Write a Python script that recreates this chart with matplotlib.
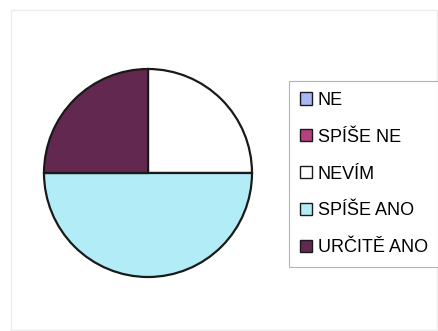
import matplotlib
matplotlib.use("Agg")
import matplotlib.pyplot as plt
from matplotlib.patches import Patch, Rectangle

plt.rcParams['font.family'] = ['Liberation Sans', 'DejaVu Sans']

categories = ["NE", "SPÍŠE NE", "NEVÍM", "SPÍŠE ANO", "URČITĚ ANO"]
values = [0, 0, 1, 2, 1]
colors = ["#a9b8f5", "#b5417e", "#ffffff", "#b2ecf7", "#62284f"]

W, H = 438, 331
fig = plt.figure(figsize=(W / 100, H / 100), dpi=100)
fig.patch.set_facecolor("white")

# faint chart-area frame
fig.add_artist(Rectangle((11 / W, 1 - 330 / H), (437 - 11) / W, (330 - 10) / H,
                         transform=fig.transFigure, fill=False,
                         edgecolor="#ececec", linewidth=1.0))

# pie
cx, cy, r = 148, 173, 104
ax = fig.add_axes([(cx - r) / W, 1 - (cy + r) / H, 2 * r / W, 2 * r / H])
ax.pie(values, colors=colors, startangle=90, counterclock=False,
       wedgeprops=dict(edgecolor="#1a1a1a", linewidth=1.6))
ax.set_xlim(-1, 1)
ax.set_ylim(-1, 1)
for p in ax.patches:
    p.set_clip_on(False)
ax.set_aspect("auto")
ax.axis("off")

handles = [Patch(facecolor=c, edgecolor="#1a1a1a", linewidth=1.0) for c in colors]
leg = fig.legend(handles, categories, loc="upper left",
                 bbox_to_anchor=(289 / W, 1 - 81 / H), borderaxespad=0,
                 frameon=True, fancybox=False, fontsize=13,
                 handlelength=0.65, handleheight=0.65, handletextpad=0.35,
                 labelspacing=1.1, borderpad=0.6)
leg.get_frame().set_edgecolor("#a0a0a0")
leg.get_frame().set_linewidth(0.8)

fig.savefig("out.png", dpi=100, facecolor="white")
